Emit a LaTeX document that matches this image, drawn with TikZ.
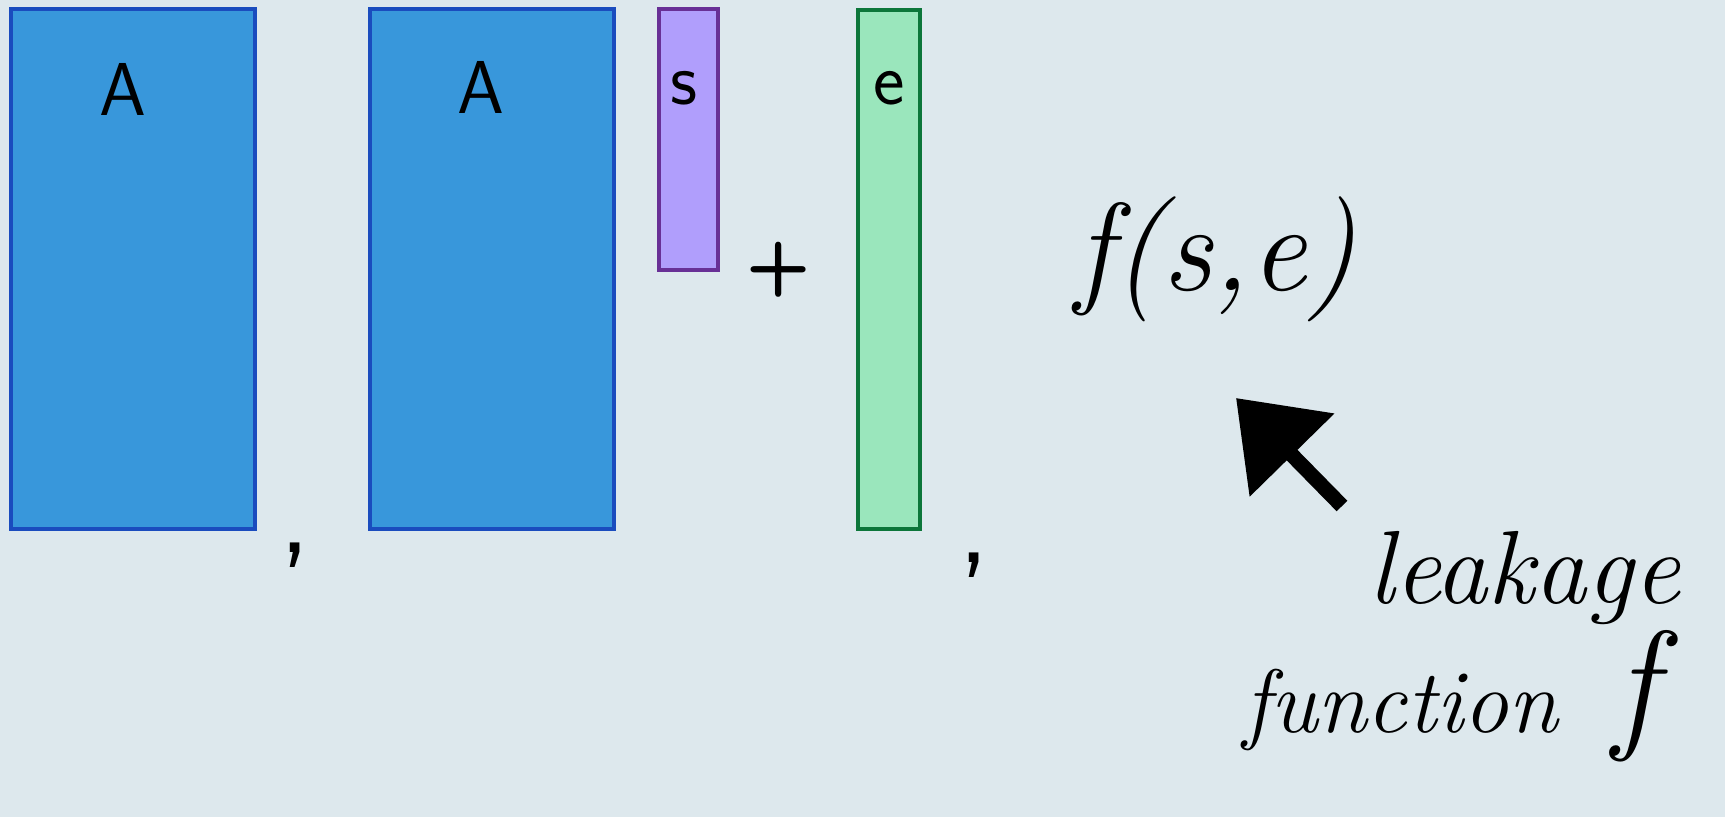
\documentclass[tikz,border=0pt]{standalone}
\usepackage{fontspec}
\usetikzlibrary{arrows.meta}
\definecolor{paper}{RGB}{221,232,237}
\definecolor{afill}{RGB}{56,151,219}
\definecolor{aedge}{RGB}{26,76,190}
\definecolor{sfill}{RGB}{176,158,252}
\definecolor{sedge}{RGB}{104,48,150}
\definecolor{efill}{RGB}{154,230,188}
\definecolor{eedge}{RGB}{12,118,58}
\tikzset{
  matbox/.style={line width=3.5pt},
  lbl/.style={font=\sffamily\fontsize{75}{80}\selectfont, inner sep=0pt, anchor=base},
  hand/.style={font=\itshape\fontsize{104}{110}\selectfont, inner sep=0pt, anchor=base west},
  bigarrow/.style={line width=15pt, -{Triangle[length=80pt,width=115pt]}}
}
\begin{document}
\begin{tikzpicture}[x=1pt,y=-1pt]
\fill[paper] (0,0) rectangle (1725,817);
\useasboundingbox (0,0) rectangle (1725,817);
% matrices and vectors
\draw[matbox, fill=afill, draw=aedge] (11,9) rectangle (255,529);
\draw[matbox, fill=afill, draw=aedge] (370,9) rectangle (614,529);
\draw[matbox, fill=sfill, draw=sedge] (659,9) rectangle (718,270);
\draw[matbox, fill=efill, draw=eedge] (858,10) rectangle (920,529);
\node[lbl] (la1) at (123,115) {A};
\node[lbl] (la2) at (481,113) {A};
\node[lbl] (ls) at (684,104) {s};
\node[lbl] (le) at (889,104) {e};
\node[lbl, anchor=center, font=\sffamily\bfseries\fontsize{75}{80}\selectfont] (plus) at (779,270) {+};
\node[lbl, anchor=center, font=\sffamily\fontsize{120}{120}\selectfont] (c1) at (295,555) {,};
\node[lbl, anchor=center, font=\sffamily\fontsize{120}{120}\selectfont] (c2) at (974,565) {,};
% leakage
\node[hand, font=\itshape\fontsize{125}{130}\selectfont] (fse) at (1075,290) {f(s,e)};
\coordinate (atail) at (1342,506);
\coordinate (ahead) at (1236,398);
\draw[bigarrow] (atail) -- (ahead);
\node[hand] (leak) at (1368,603) {leakage};
\node[hand, font=\itshape\fontsize{90}{100}\selectfont] (func) at (1243,732) {function\hspace{55pt}{\fontsize{145}{145}\selectfont f}};
\end{tikzpicture}
\end{document}
